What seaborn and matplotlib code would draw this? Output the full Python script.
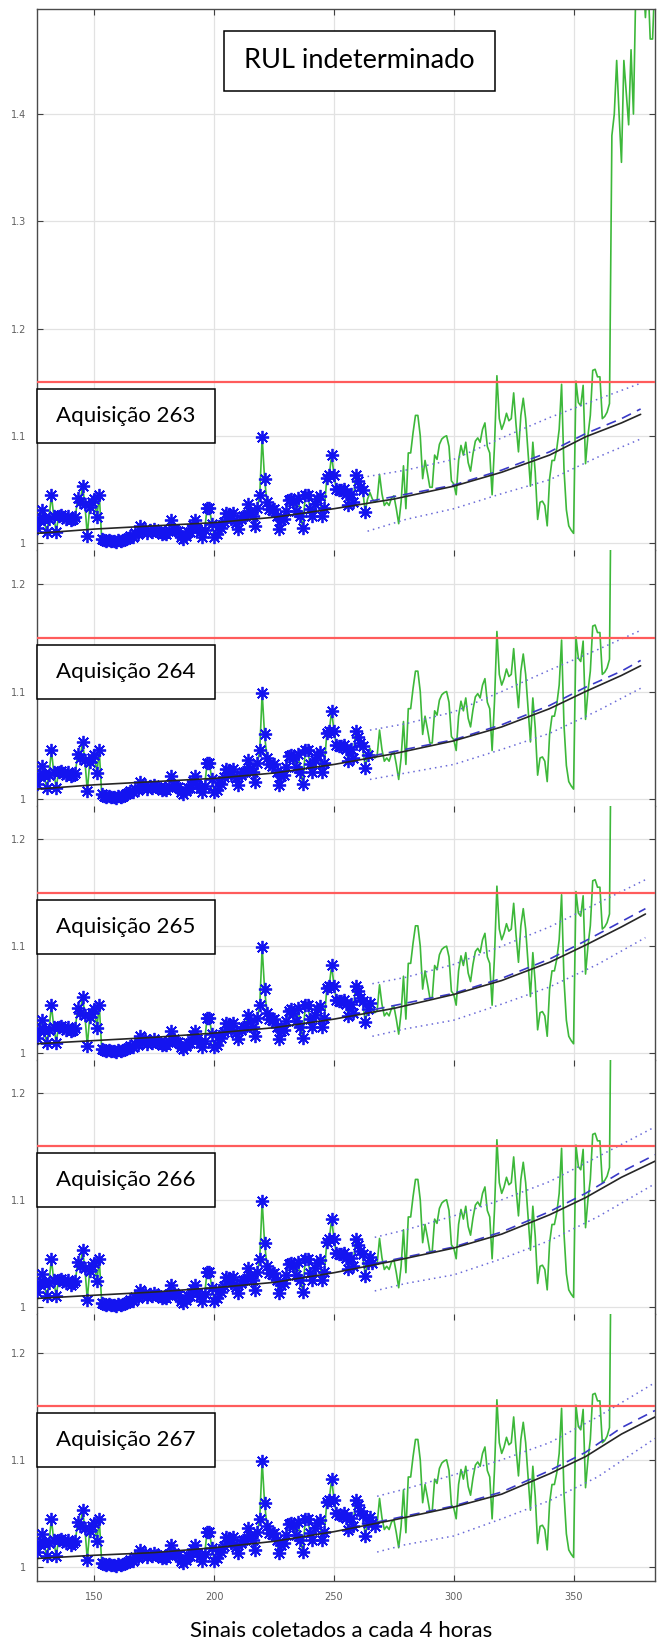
import numpy as np
import seaborn as sns
from matplotlib import pyplot as plt
from matplotlib.patches import Rectangle

# vibration signal, one value per acquisition (x = 126 ... 384)
first_x = 126
signal = [
    1.014, 1.022, 1.031, 1.022, 1.010, 1.022, 1.045, 1.025, 1.010, 1.025,  # 126-135
    1.026, 1.024, 1.022, 1.025, 1.021, 1.022, 1.024, 1.042, 1.038, 1.053,  # 136-145
    1.036, 1.007, 1.034, 1.038, 1.041, 1.024, 1.045, 1.004, 1.003, 1.002,  # 146-155
    1.003, 1.002, 1.002, 1.001, 1.003, 1.002, 1.003, 1.004, 1.005, 1.007,  # 156-165
    1.006, 1.009, 1.008, 1.016, 1.011, 1.013, 1.009, 1.012, 1.010, 1.013,  # 166-175
    1.011, 1.010, 1.008, 1.009, 1.008, 1.012, 1.021, 1.013, 1.011, 1.011,  # 176-185
    1.006, 1.004, 1.007, 1.010, 1.010, 1.017, 1.021, 1.013, 1.010, 1.006,  # 186-195
    1.012, 1.033, 1.033, 1.018, 1.006, 1.008, 1.016, 1.014, 1.020, 1.028,  # 196-205
    1.027, 1.022, 1.028, 1.019, 1.013, 1.022, 1.025, 1.025, 1.036, 1.029,  # 206-215
    1.025, 1.016, 1.033, 1.045, 1.099, 1.060, 1.038, 1.032, 1.031, 1.032,  # 216-225
    1.025, 1.013, 1.021, 1.022, 1.030, 1.040, 1.041, 1.038, 1.030, 1.042,  # 226-235
    1.025, 1.014, 1.045, 1.045, 1.032, 1.025, 1.036, 1.041, 1.044, 1.025,  # 236-245
    1.033, 1.061, 1.063, 1.082, 1.063, 1.050, 1.049, 1.049, 1.050, 1.046,  # 246-255
    1.035, 1.046, 1.038, 1.063, 1.058, 1.052, 1.049, 1.029, 1.041, 1.047,  # 256-265
    1.041, 1.038, 1.040, 1.064, 1.046, 1.035, 1.038, 1.035, 1.042, 1.044,  # 266-275
    1.032, 1.018, 1.038, 1.072, 1.032, 1.084, 1.084, 1.103, 1.119, 1.119,  # 276-285
    1.100, 1.060, 1.077, 1.065, 1.052, 1.052, 1.082, 1.078, 1.092, 1.097,  # 286-295
    1.099, 1.100, 1.090, 1.058, 1.055, 1.045, 1.077, 1.091, 1.082, 1.094,  # 296-305
    1.075, 1.067, 1.083, 1.095, 1.098, 1.094, 1.106, 1.112, 1.090, 1.084,  # 306-315
    1.045, 1.091, 1.156, 1.116, 1.106, 1.112, 1.121, 1.114, 1.116, 1.140,  # 316-325
    1.110, 1.085, 1.119, 1.135, 1.116, 1.084, 1.053, 1.094, 1.066, 1.022,  # 326-335
    1.038, 1.039, 1.035, 1.016, 1.060, 1.077, 1.077, 1.088, 1.106, 1.148,  # 336-345
    1.069, 1.031, 1.016, 1.012, 1.009, 1.151, 1.131, 1.128, 1.147, 1.074,  # 346-355
    1.100, 1.119, 1.161, 1.162, 1.155, 1.155, 1.116, 1.118, 1.122, 1.130,  # 356-365
    1.380, 1.400, 1.450, 1.400, 1.355, 1.450, 1.420, 1.390, 1.460, 1.400,  # 366-375
    1.520, 1.540, 1.550, 1.530, 1.490, 1.530, 1.470, 1.470, 1.530,         # 376-384
]
acquisitions = [263, 264, 265, 266, 267]
threshold = 1.15

# fitted degradation trend (black), read at these x, last point at trend_end
trend_x = [126, 150, 175, 200, 225, 250, 275, 300, 320, 340, 355, 370]
trend_end = [378, 378, 380, 384, 384]
trend = [
    [1.009, 1.013, 1.016, 1.019, 1.024, 1.032, 1.041, 1.053, 1.066, 1.082, 1.099, 1.112, 1.120],
    [1.009, 1.013, 1.016, 1.019, 1.024, 1.032, 1.042, 1.054, 1.067, 1.084, 1.100, 1.115, 1.124],
    [1.009, 1.012, 1.015, 1.019, 1.024, 1.032, 1.042, 1.055, 1.068, 1.085, 1.101, 1.118, 1.130],
    [1.008, 1.011, 1.014, 1.018, 1.023, 1.032, 1.043, 1.055, 1.068, 1.086, 1.102, 1.121, 1.136],
    [1.008, 1.011, 1.0135, 1.018, 1.024, 1.033, 1.044, 1.056, 1.068, 1.087, 1.103, 1.124, 1.140],
]

# predicted mean (dashed): start, 300, 320, 340, 355, 370, end
dash_start = [265, 266, 267, 268, 268]
dash_x = [300, 320, 340, 355, 370]
dash = [
    [1.039, 1.054, 1.068, 1.085, 1.102, 1.116, 1.125],
    [1.040, 1.055, 1.069, 1.087, 1.104, 1.119, 1.129],
    [1.041, 1.056, 1.070, 1.088, 1.105, 1.123, 1.135],
    [1.041, 1.056, 1.070, 1.089, 1.106, 1.126, 1.142],
    [1.042, 1.057, 1.070, 1.090, 1.107, 1.130, 1.146],
]

# confidence bounds (dotted): start, 280, 300, 320, 340, 360, end
bound_start = [264, 265, 266, 267, 268]
bound_x = [280, 300, 320, 340, 360]
bound_end = [378, 378, 380, 384, 384]
upper = [
    [1.062, 1.068, 1.078, 1.098, 1.117, 1.134, 1.149],
    [1.064, 1.070, 1.081, 1.100, 1.120, 1.139, 1.157],
    [1.065, 1.071, 1.083, 1.100, 1.118, 1.140, 1.162],
    [1.065, 1.072, 1.085, 1.100, 1.117, 1.140, 1.168],
    [1.066, 1.073, 1.086, 1.100, 1.116, 1.140, 1.172],
]
lower = [
    [1.011, 1.022, 1.032, 1.046, 1.059, 1.080, 1.097],
    [1.018, 1.024, 1.032, 1.046, 1.061, 1.082, 1.103],
    [1.016, 1.023, 1.031, 1.046, 1.062, 1.083, 1.108],
    [1.015, 1.022, 1.030, 1.045, 1.062, 1.084, 1.115],
    [1.014, 1.021, 1.029, 1.045, 1.062, 1.084, 1.120],
]

xs = np.arange(first_x, first_x + len(signal))
sig = np.array(signal)

sns.set_theme(style='whitegrid')

ylims = [(0.9935, 1.498), (0.9935, 1.232), (0.9935, 1.231), (0.9935, 1.230), (0.987, 1.236)]
heights = [hi - lo for lo, hi in ylims]

fig, axes = plt.subplots(5, 1, figsize=(6.65, 16.44), dpi=100, sharex=True,
                         gridspec_kw={'height_ratios': heights, 'hspace': 0})
fig.subplots_adjust(left=37 / 665, right=655 / 665, top=1 - 9 / 1644, bottom=1 - 1581 / 1644)

green = '#3db83a'
for i, ax in enumerate(axes):
    acq = acquisitions[i]
    ax.set_facecolor('white')
    ax.grid(True, color='#e2e2e2', lw=0.9)

    sns.lineplot(x=xs, y=sig, color=green, lw=1.2, ax=ax, zorder=2)
    m = xs <= acq
    ax.plot(xs[m], sig[m], linestyle='none', marker=(8, 2, 0), ms=9.5, mew=1.3,
            color='#1414f0', zorder=3)

    sns.lineplot(x=trend_x + [trend_end[i]], y=trend[i], color='#262626', lw=1.2,
                 ax=ax, zorder=5)
    sns.lineplot(x=[dash_start[i]] + dash_x + [trend_end[i]], y=dash[i], color='#3a3ac8',
                 lw=1.2, ax=ax, zorder=4, linestyle=(0, (6, 4)))
    bx = [bound_start[i]] + bound_x + [bound_end[i]]
    sns.lineplot(x=bx, y=upper[i], color='#6a6ad8', lw=1.1, ax=ax, zorder=4,
                 linestyle=(0, (1, 2.6)))
    sns.lineplot(x=bx, y=lower[i], color='#6a6ad8', lw=1.1, ax=ax, zorder=4,
                 linestyle=(0, (1, 2.6)))

    ax.axhline(threshold, color='#ff5c5c', lw=1.6, zorder=6)

    ax.add_patch(Rectangle((126, 1.093), 74.3, 0.0505, facecolor='white',
                           edgecolor='black', lw=1.1, zorder=7, clip_on=False))
    ax.text(163.1, 1.1183, 'Aquisição %d' % acq, ha='center', va='center',
            fontsize=16, family=['Lato', 'DejaVu Sans'], color='black', zorder=8)

    ax.set_xlim(126, 384)
    ax.set_ylim(*ylims[i])
    yt = [1, 1.1, 1.2, 1.3, 1.4] if i == 0 else [1, 1.1, 1.2]
    ax.set_yticks(yt)
    ax.set_yticklabels(['%g' % v for v in yt])
    ax.set_xticks([150, 200, 250, 300, 350])
    ax.set_xlabel('')
    ax.set_ylabel('')
    ax.tick_params(direction='in', length=4, width=0.8, color='#404040',
                   labelsize=7, labelcolor='#606060', top=True, right=True,
                   bottom=(i == 4), left=True, pad=8)
    for side in ['left', 'right', 'top', 'bottom']:
        ax.spines[side].set_color('#4a4a4a')
        ax.spines[side].set_linewidth(1.0)
    if i > 0:
        ax.spines['top'].set_visible(False)
    if i < 4:
        ax.spines['bottom'].set_visible(False)

# top panel message
axes[0].add_patch(Rectangle((204.1, 1.4218), 113.1, 0.056, facecolor='white',
                            edgecolor='black', lw=1.1, zorder=7))
axes[0].text(260.7, 1.4498, 'RUL indeterminado', ha='center', va='center',
             fontsize=19.5, family=['Lato', 'DejaVu Sans'], color='black', zorder=8)

fig.text(341 / 665, 1 - 1631 / 1644, 'Sinais coletados a cada 4 horas', ha='center',
         va='center', fontsize=16, family=['Lato', 'DejaVu Sans'], color='black')

fig.savefig('out.png', dpi=100)
